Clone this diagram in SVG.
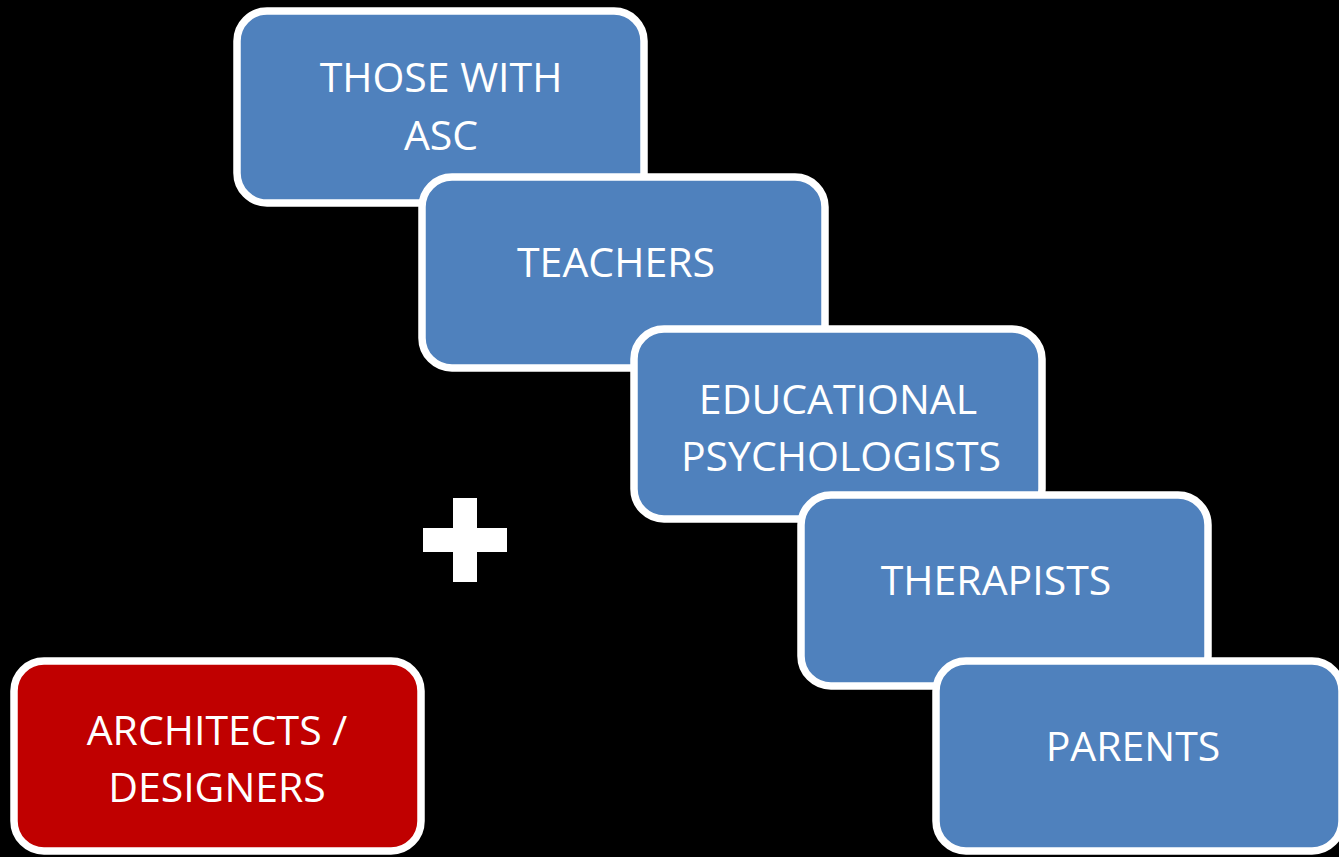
<svg xmlns="http://www.w3.org/2000/svg" width="1339" height="857" viewBox="0 0 1339 857">
<style>
.box{stroke:#fff;stroke-width:7.5}
.blue{fill:#4F81BD}
.red{fill:#C00000}
.t{fill:#fff;font-family:"Open Sans","Liberation Sans",sans-serif;font-size:41px;text-anchor:middle}
</style>
<rect width="1339" height="857" fill="#000"/>
<g id="node-asc">
<rect class="box blue" x="237" y="11" width="407" height="192" rx="30"/>
<text class="t" x="441" y="92">THOSE WITH</text>
<text class="t" x="441" y="150">ASC</text>
</g>
<g id="node-teachers">
<rect class="box blue" x="422" y="177" width="403" height="191" rx="30"/>
<text class="t" x="616" y="277">TEACHERS</text>
</g>
<g id="node-edpsych">
<rect class="box blue" x="634" y="329" width="408" height="190" rx="30"/>
<text class="t" x="838" y="414">EDUCATIONAL</text>
<text class="t" x="841" y="471">PSYCHOLOGISTS</text>
</g>
<g id="node-therapists">
<rect class="box blue" x="801" y="495" width="407" height="191" rx="30"/>
<text class="t" x="996" y="595">THERAPISTS</text>
</g>
<g id="node-parents">
<rect class="box blue" x="936" y="661" width="406" height="190" rx="30"/>
<text class="t" x="1133" y="761">PARENTS</text>
</g>
<g id="node-architects">
<rect class="box red" x="14" y="661" width="407" height="190" rx="30"/>
<text class="t" x="217" y="745">ARCHITECTS /</text>
<text class="t" x="217" y="802">DESIGNERS</text>
</g>
<g id="plus">
<rect x="453" y="498" width="24" height="84" fill="#fff"/>
<rect x="423" y="528" width="84" height="24" fill="#fff"/>
</g>
<g id="connectors"/>
</svg>
